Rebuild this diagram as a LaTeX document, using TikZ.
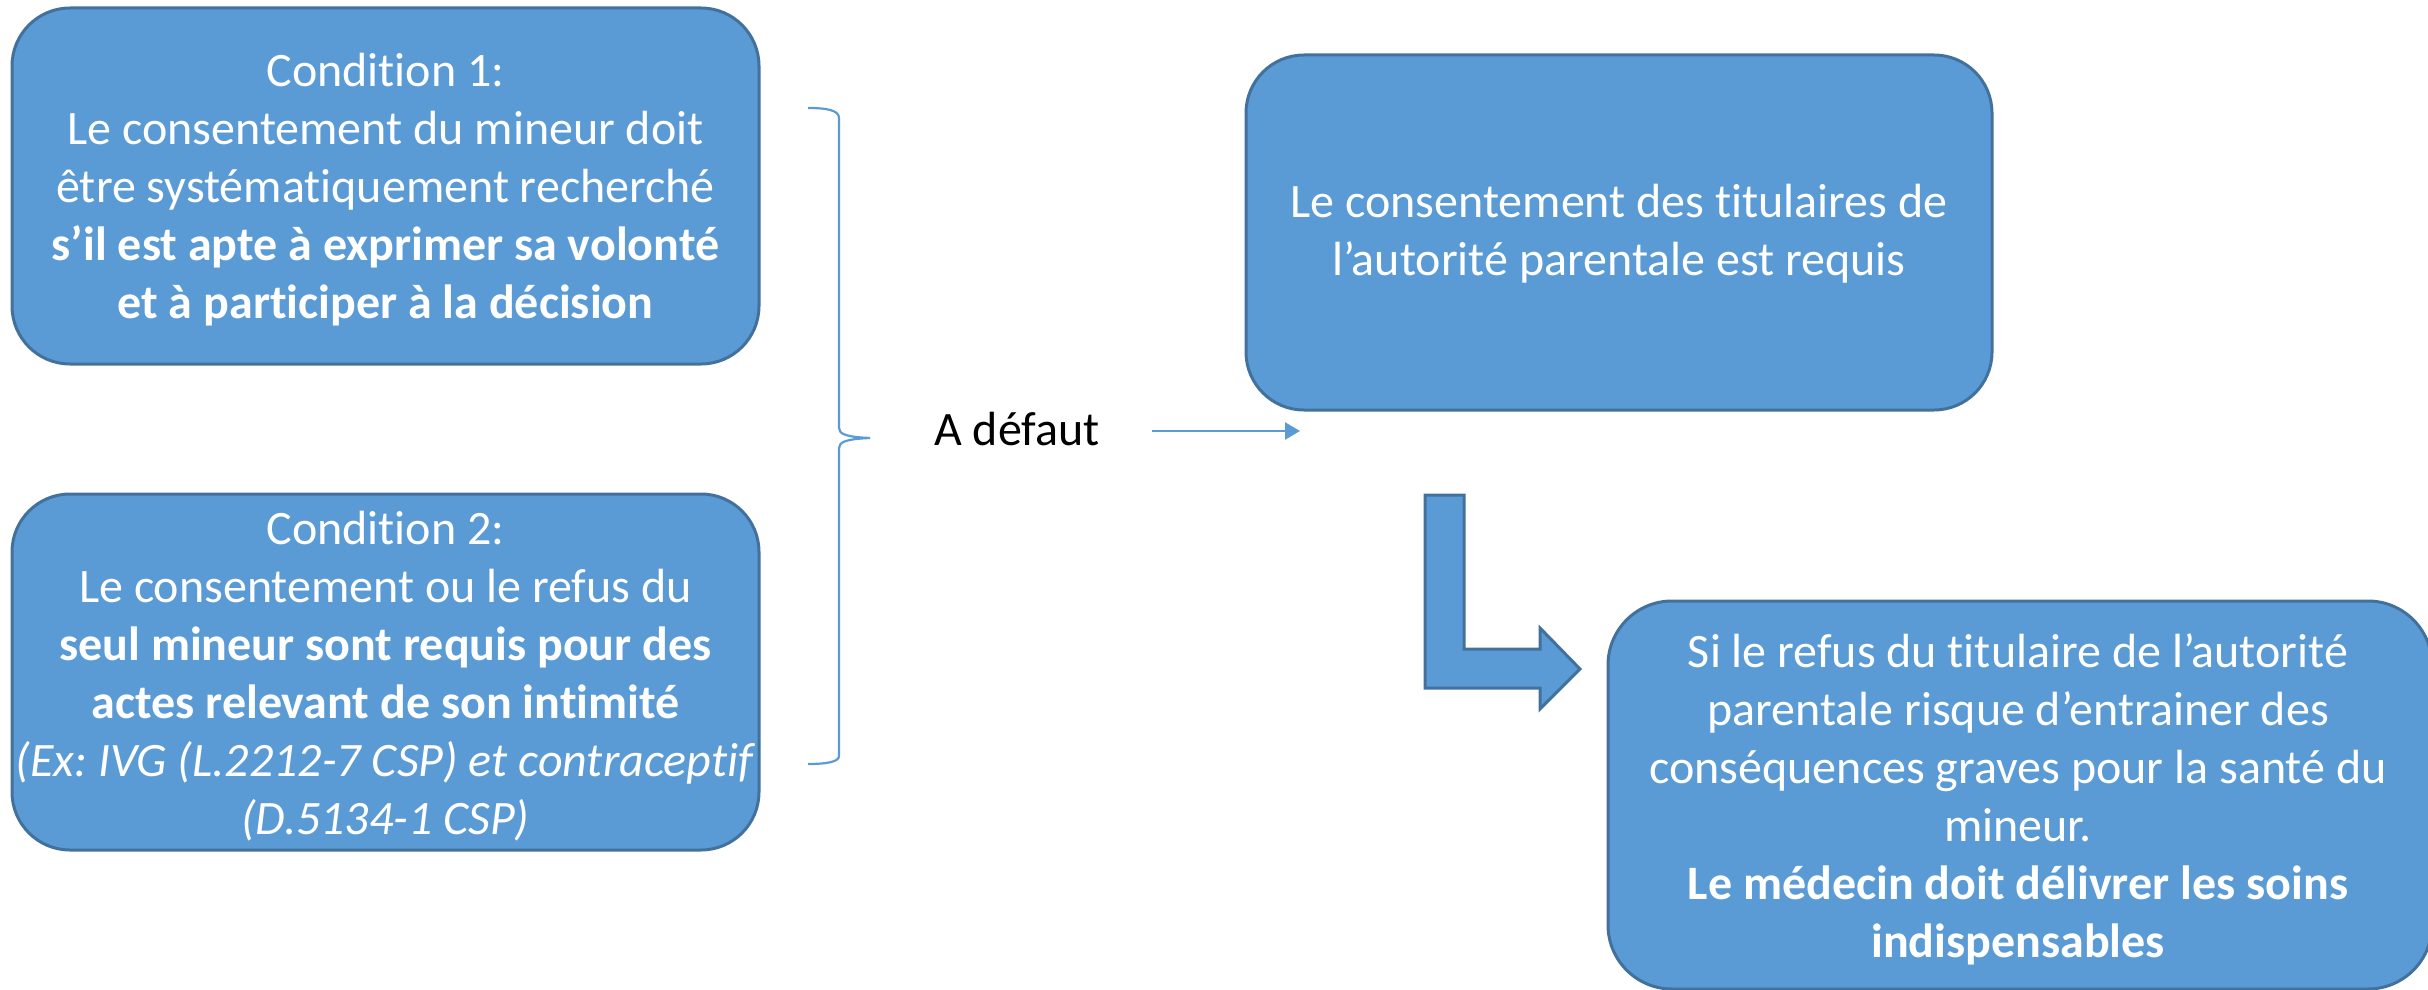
\documentclass[tikz,border=0pt]{standalone}
\usepackage{fontspec}
\setmainfont{Carlito}[Ligatures={NoCommon}]
\usetikzlibrary{arrows.meta}
\definecolor{boxfill}{HTML}{5B9BD5}
\definecolor{boxline}{HTML}{41719C}
\frenchspacing
\begin{document}
\begin{tikzpicture}[x=1pt,y=-1pt,
  card/.style={draw=boxline, fill=boxfill, line width=3pt, rounded corners=58pt,
    inner sep=0pt, align=center, text=white, font=\fontsize{48}{58}\selectfont},
  connector/.style={draw=boxfill, line width=2.5pt, -{Triangle[length=15pt,width=17pt]}},
  bracestyle/.style={draw=boxfill, line width=2.2pt},
  bentarrow/.style={fill=boxfill, draw=boxline, line width=3pt, line join=miter},
  plain/.style={font=\fontsize{48}{58}\selectfont, text=black, inner sep=0pt}]
\useasboundingbox (0,0) rectangle (2428,990);
\clip (0,0) rectangle (2428,990);

\node[card, minimum width=747pt, minimum height=356pt] (c1) at (385.5,186) {};
\node[align=center, text=white, font=\fontsize{48}{58}\selectfont, inner sep=0pt] (t1) at (385.5,190)
  {Condition 1:\\Le consentement du mineur doit\\être systématiquement recherché\\\textbf{s’il est apte à exprimer sa volonté}\\\textbf{et à participer à la décision}};

\node[card, minimum width=747pt, minimum height=356pt] (c2) at (385.5,672) {};
\node[align=center, text=white, font=\fontsize{48}{58}\selectfont, inner sep=0pt] (t2) at (385.5,676)
  {Condition 2:\\Le consentement ou le refus du\\\textbf{seul mineur sont requis pour des}\\\textbf{actes relevant de son intimité}\\\textit{(Ex: IVG (L.2212-7 CSP) et contraceptif}\\\textit{(D.5134-1 CSP)}};

\node[card, minimum width=746pt, minimum height=355pt] (c3) at (1619,232.5) {};
\node[align=center, text=white, font=\fontsize{48}{58}\selectfont, inner sep=0pt] (t3) at (1619,234)
  {Le consentement des titulaires de\\l’autorité parentale est requis};

\node[card, minimum width=824pt, minimum height=388pt, rounded corners=64pt] (c4) at (2020,795) {};
\node[align=center, text=white, font=\fontsize{48}{58}\selectfont, inner sep=0pt] (t4) at (2018,799)
  {Si le refus du titulaire de l’autorité\\parentale risque d’entrainer des\\conséquences graves pour la santé du\\mineur.\\\textbf{Le médecin doit délivrer les soins}\\\textbf{indispensables}};

% brace
\draw[bracestyle] (808,108) .. controls (826,108) and (839,110) .. (839,118)
  -- (839,428) .. controls (839,434) and (846,437) .. (870,438)
  .. controls (846,439) and (839,442) .. (839,448)
  -- (839,756) .. controls (839,762) and (826,764) .. (808,764);

\node[plain, anchor=base] (def) at (1017,445) {A défaut};

\coordinate (a0) at (1152,431);
\coordinate (a1) at (1300,431);
\draw[connector] (a0) -- (a1);

% bent arrow
\path[bentarrow] (1425,495) -- (1464,495) -- (1464,649) -- (1540,649) -- (1540,628)
  -- (1580,669) -- (1540,709) -- (1540,688) -- (1425,688) -- cycle;
\end{tikzpicture}
\end{document}
